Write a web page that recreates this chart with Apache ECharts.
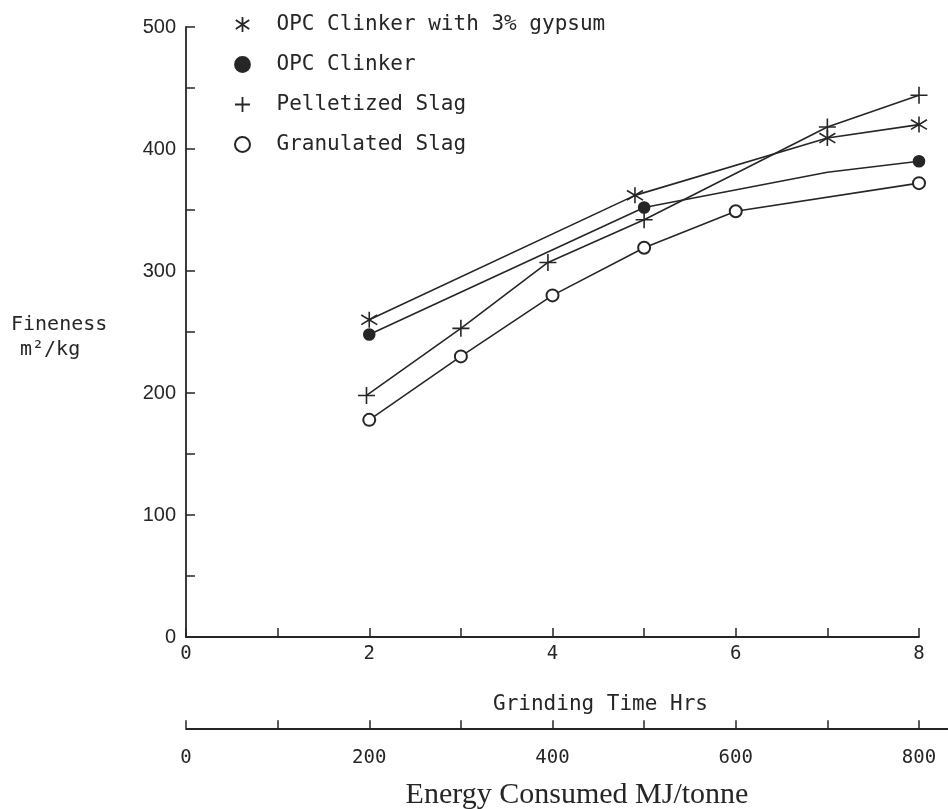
<!DOCTYPE html>
<html>
<head>
<meta charset="utf-8">
<script src="https://cdn.jsdelivr.net/npm/echarts@6/dist/echarts.min.js"></script>
<style>
  html, body { margin: 0; padding: 0; background: #fff; }
  #chart { width: 948px; height: 809px; }
</style>
</head>
<body>
<div id="chart"></div>
<script>
// 数据
const gypsumHrs = [2, 4.9, 7, 8];
const gypsumFine = [260, 362, 409, 420];

const clinkerHrs = [2, 5, 7, 8];
const clinkerFine = [248, 352, 381, 390];
const clinkerMarked = [true, true, false, true]; // 7h 处只有折点, 无标记

const pelletHrs = [1.97, 3, 3.95, 5, 7, 8];
const pelletFine = [198, 253, 307, 342, 418, 444];

const granHrs = [2, 3, 4, 5, 6, 8];
const granFine = [178, 230, 280, 319, 349, 372];

const legendNames = ['OPC Clinker with 3% gypsum', 'OPC Clinker', 'Pelletized Slag', 'Granulated Slag'];
const hourTicks = [0, 2, 4, 6, 8];
const energyTicks = [0, 200, 400, 600, 800];

const ink = '#262626';
const mono = 'DejaVu Sans Mono';
const starPath = 'path://M0,-10L0,10M-9,-6L9,6M-9,6L9,-6';
const plusPath = 'path://M0,-10L0,10M-10,0L10,0';

function pairs(xs, ys) {
  return xs.map(function (x, i) { return [x, ys[i]]; });
}

// 能量轴延伸到右边缘
const energyMax = 800 * (948 - 186) / (919 - 186);

let myChart = echarts.init(document.getElementById('chart'));

let lineBase = {
  type: 'line',
  xAxisIndex: 0,
  yAxisIndex: 0,
  lineStyle: { color: ink, width: 1.6 },
  itemStyle: { color: ink, borderColor: ink, borderWidth: 1.6 },
  emphasis: { disabled: true },
  z: 3
};

let option = {
  backgroundColor: '#ffffff',
  animation: false,
  legend: {
    orient: 'vertical',
    left: 229,
    top: 9,
    itemWidth: 26,
    itemHeight: 15,
    itemGap: 19,
    selectedMode: false,
    textStyle: { fontFamily: mono, fontSize: 21, color: ink, padding: [0, 0, 0, 16] },
    itemStyle: { borderWidth: 1.8 },
    data: [
      { name: legendNames[0], icon: starPath },
      { name: legendNames[1], icon: 'circle' },
      { name: legendNames[2], icon: plusPath },
      { name: legendNames[3], icon: 'emptyCircle' }
    ]
  },
  grid: [
    { left: 186, right: 29, top: 27, height: 610 },
    { left: 186, right: 0, top: 728, height: 1 }
  ],
  xAxis: [
    {
      gridIndex: 0,
      type: 'value',
      min: 0,
      max: 8,
      interval: 1,
      name: 'Grinding Time Hrs',
      nameLocation: 'middle',
      nameGap: 57,
      nameTextStyle: { fontFamily: mono, fontSize: 21, color: ink, padding: [0, 0, 0, 96] },
      axisLine: { lineStyle: { color: ink, width: 1.8 } },
      axisTick: { inside: true, length: 9, lineStyle: { color: ink, width: 1.5 } },
      axisLabel: {
        margin: 8,
        fontFamily: mono,
        fontSize: 19,
        color: ink,
        formatter: function (v) { return hourTicks.indexOf(v) >= 0 ? String(v) : ''; }
      },
      splitLine: { show: false }
    },
    {
      gridIndex: 1,
      type: 'value',
      min: 0,
      max: energyMax,
      interval: 100,
      name: 'Energy Consumed MJ/tonne',
      nameLocation: 'middle',
      nameGap: 52,
      nameTextStyle: { fontFamily: 'Liberation Serif', fontSize: 30, color: ink, padding: [0, 0, 0, 20] },
      axisLine: { lineStyle: { color: ink, width: 1.8 } },
      axisTick: { inside: true, length: 8, lineStyle: { color: ink, width: 1.5 } },
      axisLabel: {
        margin: 20,
        fontFamily: mono,
        fontSize: 19,
        color: ink,
        showMaxLabel: false,
        formatter: function (v) { return energyTicks.indexOf(v) >= 0 ? String(v) : ''; }
      },
      splitLine: { show: false }
    }
  ],
  yAxis: [
    {
      gridIndex: 0,
      type: 'value',
      min: 0,
      max: 500,
      interval: 50,
      axisLine: { show: true, lineStyle: { color: ink, width: 1.8 } },
      axisTick: { show: true, inside: true, length: 9, lineStyle: { color: ink, width: 1.5 } },
      axisLabel: {
        margin: 10,
        fontFamily: 'Liberation Sans',
        fontSize: 20,
        color: ink,
        formatter: function (v) { return v % 100 === 0 ? String(v) : ''; }
      },
      splitLine: { show: false }
    },
    {
      gridIndex: 1,
      type: 'value',
      show: false,
      min: 0,
      max: 1
    }
  ],
  graphic: [
    {
      type: 'text',
      left: 11,
      top: 315,
      style: { text: 'Fineness', font: '20px "DejaVu Sans Mono"', fill: ink }
    },
    {
      type: 'text',
      left: 20,
      top: 340,
      style: { text: 'm²/kg', font: '20px "DejaVu Sans Mono"', fill: ink }
    }
  ],
  series: [
    Object.assign({}, lineBase, {
      name: legendNames[0],
      symbol: starPath,
      symbolSize: 16,
      data: pairs(gypsumHrs, gypsumFine)
    }),
    Object.assign({}, lineBase, {
      name: legendNames[1],
      symbol: 'circle',
      symbolSize: 11,
      data: clinkerHrs.map(function (x, i) {
        return clinkerMarked[i]
          ? { value: [x, clinkerFine[i]] }
          : { value: [x, clinkerFine[i]], symbol: 'none' };
      })
    }),
    Object.assign({}, lineBase, {
      name: legendNames[2],
      symbol: plusPath,
      symbolSize: 17,
      data: pairs(pelletHrs, pelletFine)
    }),
    Object.assign({}, lineBase, {
      name: legendNames[3],
      symbol: 'emptyCircle',
      symbolSize: 12,
      itemStyle: { color: ink, borderColor: ink, borderWidth: 2.2 },
      data: pairs(granHrs, granFine)
    })
  ]
};

myChart.setOption(option);
</script>
</body>
</html>
